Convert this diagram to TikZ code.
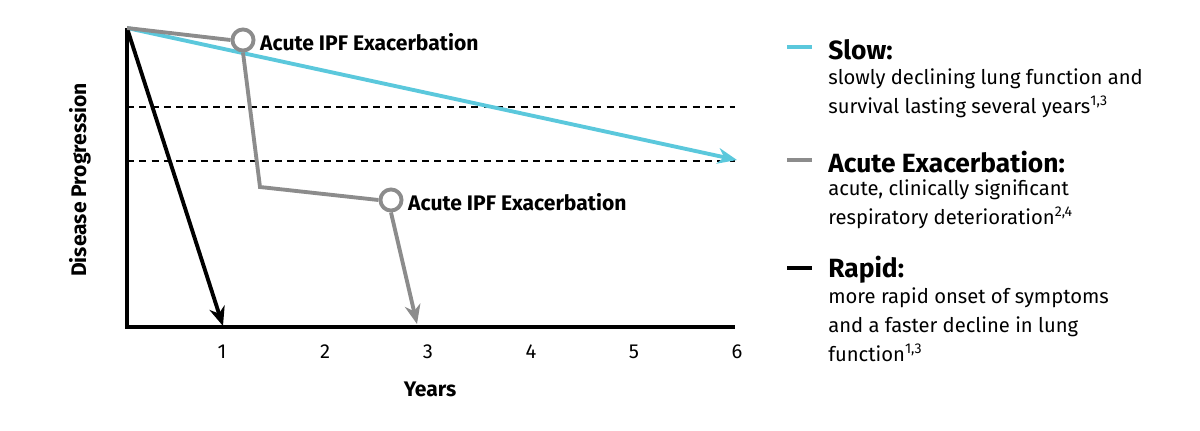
\documentclass[tikz,border=0pt]{standalone}
\usepackage{fontspec}
\setmainfont{Fira Sans}
\usetikzlibrary{arrows.meta}
\definecolor{slowcol}{HTML}{5BC8DC}
\definecolor{acutecol}{HTML}{8C8C8C}
\tikzstyle{curve} = [line width=2.2pt,-{Stealth[length=11pt,width=9pt]}]
\tikzstyle{marker} = [circle, draw=acutecol, line width=2.2pt, fill=white, minimum size=12pt, inner sep=0pt]
\tikzstyle{event} = [anchor=west, font=\bfseries\fontsize{12}{14}\selectfont]
\tikzstyle{legtitle} = [anchor=west, font=\bfseries\fontsize{15}{17}\selectfont, inner sep=0pt]
\tikzstyle{legtext} = [anchor=north west, align=left, font=\fontsize{11.5}{16.5}\selectfont, inner sep=0pt]
\tikzstyle{tick} = [font=\fontsize{11.5}{14}\selectfont]
\begin{document}
\begin{tikzpicture}[x=0.02cm,y=-0.02cm]
		\useasboundingbox (0,0) rectangle (1200,430);

		% axes
		\coordinate (origin) at (127,327);
		\coordinate (top) at (127,28);
		\coordinate (xend) at (735,327);
		\draw [line width=2pt] (top) -- (origin) -- (xend);
		\draw [line width=1.5pt, dashed, dash pattern=on 4pt off 3pt] (127,107) -- (735,107);
		\draw [line width=1.5pt, dashed, dash pattern=on 4pt off 3pt] (127,161) -- (735,161);

		\foreach \n/\x in {1/222,2/325,3/428,4/531,5/634,6/737}
			\node (tick\n) [tick] at (\x,352) {\n};
		\node (years) [tick, font=\bfseries\fontsize{12}{14}\selectfont] at (430,389) {Years};
		\node (ylabel) [rotate=90, font=\bfseries\fontsize{12}{14}\selectfont] at (80,180) {Disease Progression};

		% curves
		\coordinate (slowend) at (737,160);
		\coordinate (rapidend) at (223,326);
		\draw [curve, slowcol] (top) -- (slowend);
		\draw [curve, black] (top) -- (rapidend);

		\node (ev1) [marker] at (243,40) {};
		\node (ev2) [marker] at (391,200) {};
		\coordinate (bend) at (260,187);
		\coordinate (acuteend) at (417,324);
		\draw [line width=2.2pt, acutecol] (top) -- (ev1.west);
		\draw [line width=2.2pt, acutecol] (ev1.south) -- (bend) -- (ev2.west);
		\draw [curve, acutecol] (ev2.south) -- (acuteend);
		\node (ev1label) [event] at (254,42) {Acute IPF Exacerbation};
		\node (ev2label) [event] at (402,202) {Acute IPF Exacerbation};

		% legend
		\draw [line width=2.2pt, slowcol] (787,47) -- (812,47);
		\draw [line width=2.2pt, acutecol] (787,160) -- (812,160);
		\draw [line width=2.2pt, black] (787,268) -- (812,268);
		\node (slow) [legtitle] at (828,50) {Slow:};
		\node (acute) [legtitle] at (828,162) {Acute Exacerbation:};
		\node (rapid) [legtitle] at (828,270) {Rapid:};
		\node (slowtext) [legtext] at (828,68) {slowly declining lung function and\\survival lasting several years\textsuperscript{1,3}};
		\node (acutetext) [legtext] at (828,179) {acute, clinically significant\\respiratory deterioration\textsuperscript{2,4}};
		\node (rapidtext) [legtext] at (828,287) {more rapid onset of symptoms\\and a faster decline in lung\\function\textsuperscript{1,3}};

		\end{tikzpicture}
\end{document}
